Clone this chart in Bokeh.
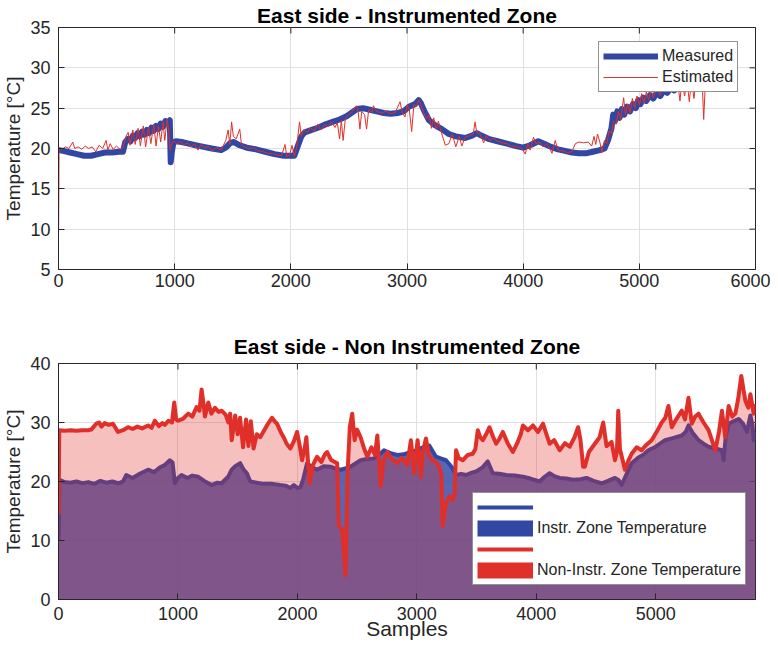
import math
from bokeh.plotting import figure
from bokeh.layouts import column
from bokeh.models import Legend, LegendItem, FixedTicker, Range1d, ColumnDataSource
from bokeh.embed import file_html
from bokeh.resources import INLINE

# ---------------- data: top panel ----------------
meas_x = [1, 40, 100, 160, 220, 280, 340, 400, 460, 520, 555, 575, 600, 620, 640, 660, 680, 700, 720, 740,
          760, 780, 800, 820, 840, 860, 880, 900, 920, 940, 958, 966, 975, 990, 1010, 1060, 1120, 1180, 1250,
          1320, 1400, 1440, 1480, 1510, 1560, 1620, 1700, 1780, 1860, 1940, 2030, 2060, 2090, 2120, 2180,
          2240, 2300, 2360, 2420, 2480, 2530, 2570, 2620, 2680, 2740, 2800, 2860, 2920, 2970, 3020, 3070,
          3100, 3120, 3150, 3190, 3240, 3300, 3360, 3420, 3500, 3560, 3600, 3640, 3700, 3780, 3860, 3940,
          4000, 4060, 4130, 4180, 4240, 4300, 4360, 4420, 4480, 4540, 4600, 4660, 4700, 4730, 4760, 4775,
          4790, 4810, 4830, 4850, 4870, 4895, 4920, 4945, 4970, 4990, 5010, 5035, 5060, 5090, 5120, 5150,
          5180, 5210, 5240, 5270, 5300, 5330, 5360, 5420, 5480, 5540, 5600, 5660, 5720, 5780, 5835]
meas_y = [19.8, 19.7, 19.5, 19.3, 19.1, 19.1, 19.3, 19.5, 19.5, 19.6, 19.6, 20.8, 21.2, 20.9, 21.6, 21.3,
          21.9, 21.5, 22.1, 21.7, 22.3, 21.9, 22.6, 22.2, 22.8, 22.4, 23.1, 22.7, 23.4, 23.1, 23.5, 18.3,
          19.5, 20.8, 20.9, 20.8, 20.6, 20.4, 20.2, 20.0, 19.8, 20.1, 20.7, 20.8, 20.4, 20.1, 19.9, 19.6,
          19.3, 19.1, 19.1, 20.3, 21.5, 22.0, 22.3, 22.6, 23.0, 23.3, 23.6, 24.0, 24.5, 24.9, 25.0, 24.8,
          24.6, 24.4, 24.3, 24.4, 24.6, 25.2, 25.5, 26.0, 25.6, 24.6, 23.5, 22.9, 22.4, 21.8, 21.5, 21.3,
          21.6, 21.9, 21.6, 21.2, 20.9, 20.6, 20.3, 20.1, 20.4, 20.9, 20.6, 20.2, 19.9, 19.7, 19.5, 19.4,
          19.4, 19.6, 19.8, 20.0, 21.0, 22.5, 24.2, 23.4, 24.6, 23.8, 24.9, 24.2, 25.2, 24.6, 25.5, 25.0,
          26.0, 25.5, 26.3, 25.9, 26.6, 26.2, 26.9, 26.5, 27.2, 26.9, 27.5, 27.2, 27.7, 27.5, 27.9, 28.2,
          28.4, 28.5, 28.6, 28.7, 28.8, 28.8, 28.9]

est_x = [1, 5, 30, 60, 90, 123, 140, 170, 200, 230, 260, 290, 320, 350, 380, 410, 425, 445, 470, 500, 530,
         555, 580, 600, 615, 640, 660, 685, 705, 730, 750, 775, 795, 820, 840, 860, 880, 900, 915, 935, 950,
         962, 972, 990, 1020, 1050, 1080, 1110, 1140, 1170, 1200, 1230, 1260, 1290, 1320, 1360, 1400, 1440,
         1460, 1475, 1490, 1505, 1530, 1560, 1575, 1600, 1640, 1680, 1720, 1760, 1800, 1840, 1880, 1920,
         1950, 1965, 1990, 2010, 2030, 2050, 2075, 2090, 2110, 2140, 2170, 2200, 2230, 2260, 2290, 2320,
         2350, 2380, 2400, 2420, 2435, 2450, 2470, 2500, 2530, 2566, 2580, 2595, 2610, 2635, 2652, 2670,
         2700, 2710, 2740, 2780, 2820, 2860, 2900, 2940, 2960, 2983, 3000, 3020, 3040, 3060, 3080, 3100,
         3112, 3140, 3170, 3190, 3210, 3230, 3250, 3270, 3300, 3330, 3360, 3390, 3420, 3450, 3472, 3500,
         3540, 3570, 3586, 3600, 3630, 3660, 3680, 3710, 3740, 3780, 3820, 3860, 3900, 3950, 3990, 4018,
         4040, 4060, 4089, 4110, 4140, 4170, 4200, 4230, 4248, 4276, 4300, 4340, 4380, 4420, 4449, 4480,
         4520, 4560, 4590, 4610, 4625, 4640, 4660, 4678, 4700, 4720, 4740, 4760, 4778, 4800, 4820, 4840,
         4865, 4880, 4900, 4920, 4940, 4960, 4980, 5000, 5020, 5040, 5060, 5080, 5100, 5120, 5150, 5180,
         5210, 5240, 5270, 5300, 5330, 5350, 5365, 5390, 5410, 5430, 5450, 5470, 5490, 5520, 5540, 5554,
         5570, 5600, 5640, 5669, 5690, 5740, 5790, 5813, 5830, 5850]
est_y = [10.0, 20.1, 19.9, 20.2, 20.0, 20.8, 20.0, 20.2, 19.9, 20.3, 20.0, 20.2, 19.6, 20.4, 20.0, 21.0,
         19.8, 20.6, 19.9, 20.3, 19.9, 20.1, 21.5, 22.0, 20.4, 22.3, 20.5, 22.5, 20.3, 22.8, 20.2, 22.6,
         20.6, 23.0, 20.3, 22.8, 20.8, 23.3, 21.0, 23.6, 22.0, 19.8, 20.5, 21.0, 20.6, 20.9, 20.4, 20.7,
         20.2, 20.6, 19.8, 20.5, 20.0, 20.3, 19.7, 20.1, 19.8, 21.0, 22.3, 20.5, 23.3, 21.5, 21.2, 22.4,
         20.5, 20.2, 20.0, 20.1, 19.7, 19.6, 19.4, 19.4, 19.2, 19.1, 20.5, 19.0, 19.2, 20.4, 19.0, 20.2,
         23.3, 21.5, 22.3, 22.0, 22.6, 22.1, 23.0, 22.3, 23.0, 22.7, 23.3, 22.6, 23.2, 21.2, 23.5, 21.0,
         23.8, 24.2, 24.6, 25.3, 24.5, 22.4, 24.6, 24.2, 22.4, 24.8, 24.5, 25.3, 24.6, 24.4, 24.6, 24.3,
         24.5, 25.8, 24.4, 23.9, 25.4, 24.8, 22.1, 25.5, 25.2, 26.0, 25.8, 24.5, 23.7, 24.2, 22.5, 23.8,
         22.4, 23.4, 21.8, 20.4, 20.6, 21.8, 20.2, 21.5, 20.3, 21.4, 21.6, 21.8, 23.3, 22.0, 21.8, 20.7,
         21.6, 21.0, 21.3, 20.9, 20.7, 20.6, 20.3, 20.2, 20.0, 19.3, 20.6, 19.8, 21.4, 20.6, 20.8, 20.2,
         20.6, 20.0, 19.4, 21.0, 19.8, 19.7, 19.5, 19.6, 20.6, 20.8, 20.7, 20.8, 20.3, 21.5, 20.5, 21.8,
         20.8, 19.5, 21.0, 20.6, 22.2, 21.8, 23.4, 23.0, 24.6, 23.6, 26.3, 24.2, 25.5, 24.4, 26.2, 25.0,
         26.5, 25.4, 26.8, 25.6, 27.0, 26.0, 27.4, 26.3, 27.6, 26.6, 27.8, 27.0, 28.0, 27.3, 28.2, 25.9,
         28.3, 26.5, 28.5, 25.8, 28.6, 26.2, 28.6, 27.5, 28.7, 23.6, 28.7, 28.5, 28.8, 27.0, 28.8, 28.9,
         28.7, 27.0, 28.9, 28.9]

# ---------------- data: bottom panel ----------------
instr_x = [1, 8, 50, 100, 150, 200, 250, 300, 350, 400, 450, 500, 540, 568, 620, 680, 750, 800, 850, 890,
           932, 955, 974, 1000, 1030, 1080, 1120, 1170, 1220, 1282, 1330, 1366, 1420, 1450, 1480, 1521, 1550,
           1577, 1605, 1660, 1717, 1790, 1857, 1900, 1941, 1970, 2000, 2025, 2050, 2081, 2120, 2165, 2220,
           2277, 2320, 2361, 2400, 2445, 2490, 2529, 2580, 2641, 2690, 2725, 2780, 2837, 2890, 2949, 3000,
           3050, 3104, 3160, 3200, 3244, 3290, 3328, 3370, 3412, 3460, 3496, 3550, 3594, 3636, 3690, 3748,
           3820, 3888, 3950, 4028, 4070, 4112, 4150, 4196, 4250, 4308, 4370, 4420, 4480, 4546, 4600, 4658,
           4690, 4714, 4750, 4798, 4850, 4900, 4938, 5000, 5078, 5150, 5218, 5250, 5274, 5310, 5358, 5400,
           5442, 5500, 5554, 5568, 5585, 5610, 5650, 5694, 5730, 5764, 5792, 5810, 5820, 5835]
instr_y = [10.0, 20.3, 19.9, 19.8, 20.0, 19.7, 19.9, 19.6, 20.1, 19.8, 20.0, 19.7, 20.0, 21.1, 20.6, 21.3,
           22.0, 21.6, 22.4, 22.8, 23.6, 23.2, 19.7, 20.6, 21.1, 20.6, 21.0, 20.8, 20.1, 19.4, 19.8, 19.7,
           20.8, 22.0, 22.6, 23.1, 22.0, 21.4, 20.0, 19.8, 19.6, 19.6, 19.4, 19.3, 18.9, 19.4, 18.9, 19.0,
           20.5, 23.1, 22.4, 22.0, 22.6, 22.5, 22.2, 22.0, 22.2, 22.5, 23.1, 23.6, 23.8, 23.9, 24.6, 25.3,
           24.8, 24.5, 24.6, 25.0, 25.3, 25.8, 26.1, 24.2, 23.9, 23.6, 22.5, 21.1, 21.3, 21.1, 21.5, 21.7,
           22.4, 23.4, 21.4, 21.3, 21.1, 21.0, 20.8, 20.5, 20.0, 20.8, 21.4, 20.9, 20.6, 20.5, 20.3, 20.4,
           20.6, 20.1, 19.7, 20.1, 20.6, 20.2, 19.4, 21.0, 23.1, 24.0, 24.6, 25.3, 25.9, 27.0, 27.4, 27.8,
           28.4, 29.5, 28.2, 27.0, 26.4, 25.9, 25.6, 25.3, 23.6, 27.5, 29.8, 30.2, 30.6, 29.8, 28.4, 31.2,
           29.5, 27.0, 28.4]

non_x = [1, 6, 50, 100, 150, 200, 250, 274, 316, 340, 360, 386, 420, 456, 498, 540, 582, 620, 660, 700, 750,
         780, 806, 840, 870, 890, 920, 950, 969, 985, 1002, 1040, 1086, 1120, 1156, 1180, 1198, 1215, 1226,
         1254, 1280, 1310, 1340, 1366, 1400, 1422, 1437, 1450, 1479, 1500, 1520, 1545, 1570, 1590, 1610,
         1633, 1660, 1689, 1720, 1745, 1787, 1810, 1829, 1860, 1885, 1910, 1941, 1970, 1997, 2020, 2039,
         2060, 2075, 2090, 2103, 2130, 2165, 2200, 2230, 2249, 2280, 2305, 2333, 2347, 2375, 2390, 2403,
         2417, 2439, 2459, 2479, 2500, 2529, 2560, 2585, 2620, 2650, 2669, 2697, 2720, 2753, 2790, 2837,
         2870, 2893, 2920, 2950, 2978, 3006, 3034, 3050, 3076, 3100, 3132, 3160, 3188, 3205, 3216, 3244,
         3270, 3300, 3315, 3328, 3350, 3384, 3426, 3468, 3490, 3510, 3530, 3552, 3580, 3608, 3640, 3664,
         3690, 3720, 3760, 3804, 3840, 3870, 3888, 3930, 3972, 4014, 4056, 4085, 4112, 4150, 4196, 4240,
         4280, 4320, 4350, 4370, 4392, 4406, 4440, 4490, 4530, 4560, 4588, 4630, 4658, 4675, 4686, 4700,
         4742, 4770, 4798, 4840, 4882, 4920, 4966, 5010, 5050, 5080, 5106, 5134, 5170, 5218, 5245, 5274,
         5302, 5330, 5358, 5400, 5442, 5470, 5498, 5530, 5554, 5582, 5610, 5640, 5666, 5690, 5716, 5735,
         5750, 5775, 5792, 5820, 5835]
non_y = [14.4, 28.7, 28.6, 28.7, 28.6, 28.7, 28.7, 28.8, 29.8, 30.0, 29.3, 29.9, 29.6, 29.8, 28.4, 28.7,
         29.2, 28.9, 29.3, 29.0, 29.5, 29.1, 30.3, 29.4, 29.9, 29.6, 30.3, 30.0, 33.4, 30.5, 30.3, 30.6,
         31.5, 31.0, 32.6, 32.0, 35.6, 33.0, 31.0, 33.4, 31.5, 32.5, 31.8, 32.0, 31.3, 30.0, 31.5, 27.0,
         31.2, 28.0, 30.8, 25.8, 30.5, 26.0, 30.2, 25.6, 28.0, 27.5, 28.6, 29.5, 30.8, 30.2, 29.8, 28.4,
         27.5, 26.4, 25.6, 26.8, 28.4, 26.0, 23.6, 25.5, 27.5, 23.0, 19.7, 22.8, 24.2, 23.3, 24.6, 25.0,
         23.7, 23.4, 23.1, 12.5, 11.9, 8.0, 4.1, 20.3, 29.2, 31.5, 27.0, 28.8, 27.5, 25.5, 24.2, 25.8,
         24.5, 27.8, 19.2, 23.5, 25.0, 23.8, 23.1, 24.0, 23.6, 22.8, 27.0, 21.4, 27.0, 20.8, 25.0, 27.3,
         24.5, 23.6, 23.3, 22.5, 21.0, 12.5, 16.4, 17.5, 16.9, 18.0, 25.3, 24.0, 23.6, 24.5, 24.7, 25.5,
         28.7, 27.5, 27.0, 28.0, 29.2, 27.5, 26.4, 27.2, 28.4, 26.5, 25.0, 26.5, 28.0, 29.5, 28.7, 29.5,
         28.4, 29.8, 28.0, 26.4, 27.0, 25.3, 26.5, 25.9, 27.5, 29.2, 27.0, 22.5, 22.5, 25.0, 26.4, 27.5,
         30.0, 26.0, 26.7, 23.6, 25.0, 32.0, 25.5, 22.0, 23.5, 24.7, 25.8, 25.3, 26.2, 27.0, 28.5, 30.0,
         30.8, 32.8, 29.2, 30.5, 32.0, 30.5, 34.2, 29.8, 31.0, 31.5, 30.0, 28.7, 27.0, 25.3, 28.5, 32.0,
         27.5, 32.8, 31.0, 31.5, 34.0, 37.9, 35.5, 33.7, 32.5, 34.8, 31.5, 33.1]

top_xticks = [0, 1000, 2000, 3000, 4000, 5000, 6000]
top_yticks = [5, 10, 15, 20, 25, 30, 35]
bot_xticks = [0, 1000, 2000, 3000, 4000, 5000]
bot_yticks = [0, 10, 20, 30, 40]

BLUE = "#3246a3"
RED = "#e0302a"
TXT = "#262626"
FONT = "Liberation Sans"
GRID = "#e0e0e0"


def style(p, xt, yt, xr, yr):
    p.title.align = "center"
    p.title.text_font = FONT
    p.title.text_font_size = "21px"
    p.title.text_font_style = "bold"
    p.title.text_color = "#000000"
    p.title.standoff = 2
    p.outline_line_color = TXT
    p.outline_line_alpha = 1.0
    p.xaxis.ticker = FixedTicker(ticks=xt)
    p.yaxis.ticker = FixedTicker(ticks=yt)
    p.xgrid.ticker = FixedTicker(ticks=xt)
    p.ygrid.ticker = FixedTicker(ticks=yt)
    p.grid.grid_line_color = GRID
    p.grid.grid_line_width = 1
    for ax in list(p.xaxis) + list(p.yaxis):
        ax.major_tick_in = 6
        ax.major_tick_out = 0
        ax.minor_tick_in = 0
        ax.minor_tick_out = 0
        ax.axis_line_color = TXT
        ax.major_tick_line_color = TXT
        ax.major_label_text_font = FONT
        ax.major_label_text_font_size = "18px"
        ax.major_label_text_color = TXT
        ax.major_label_text_line_height = 1.0
        ax.axis_label_text_font = FONT
        ax.axis_label_text_font_style = "normal"
        ax.axis_label_text_color = TXT
        ax.axis_label_text_line_height = 1.0
    p.yaxis.major_label_standoff = 8
    p.xaxis.major_label_standoff = 4
    # inward ticks on the right and top edges of the box
    p.ray(x=[xr[1]] * len(yt), y=yt, length=6, length_units="screen", angle=math.pi,
          line_color=TXT, line_width=1)
    p.ray(x=xt, y=[yr[1]] * len(xt), length=6, length_units="screen", angle=-math.pi / 2,
          line_color=TXT, line_width=1)


# ---------------- top figure ----------------
TOP_XR = (0, 6000)
TOP_YR = (5, 35)
p1 = figure(width=770, height=299, output_backend="svg", toolbar_location=None,
            x_range=Range1d(*TOP_XR), y_range=Range1d(*TOP_YR),
            title="East side - Instrumented Zone",
            min_border_left=51, min_border_right=15, min_border_top=21, min_border_bottom=30)
style(p1, top_xticks, top_yticks, TOP_XR, TOP_YR)
p1.yaxis[0].axis_label = "Temperature [°C]"
p1.yaxis[0].axis_label_text_font_size = "19px"
p1.yaxis[0].axis_label_standoff = 3

src_m = ColumnDataSource(dict(x=meas_x, y=meas_y))
src_e = ColumnDataSource(dict(x=est_x, y=est_y))
r_m = p1.line("x", "y", source=src_m, line_color=BLUE, line_width=6, line_join="round")
r_e = p1.line("x", "y", source=src_e, line_color=RED, line_width=1)

leg1 = Legend(items=[LegendItem(label="Measured", renderers=[r_m]),
                     LegendItem(label="Estimated", renderers=[r_e])],
              location=(540, 177))
leg1.label_text_font = FONT
leg1.label_text_font_size = "16px"
leg1.label_text_color = TXT
leg1.glyph_width = 55
leg1.glyph_height = 20
leg1.label_height = 20
leg1.spacing = 1
leg1.padding = 4
leg1.margin = 0
leg1.label_standoff = 4
leg1.border_line_color = TXT
leg1.border_line_width = 1
leg1.background_fill_alpha = 1.0
p1.add_layout(leg1, "center")

# ---------------- bottom figure ----------------
BOT_XR = (0, 5835)
BOT_YR = (0, 40)
p2 = figure(width=770, height=343, output_backend="svg", toolbar_location=None,
            x_range=Range1d(*BOT_XR), y_range=Range1d(*BOT_YR),
            title="East side - Non Instrumented Zone",
            min_border_left=51, min_border_right=15, min_border_top=64, min_border_bottom=40)
p2.yaxis[0].axis_label = "Temperature [°C]"
p2.xaxis[0].axis_label = "Samples"
style(p2, bot_xticks, bot_yticks, BOT_XR, BOT_YR)
p2.title.standoff = 11
p2.yaxis[0].axis_label_text_font_size = "19px"
p2.yaxis[0].axis_label_standoff = 3
p2.xaxis[0].axis_label_text_font_size = "21px"
p2.xaxis[0].major_label_standoff = 7
p2.xaxis[0].axis_label_standoff = -6

src_i = ColumnDataSource(dict(x=instr_x, y=instr_y))
src_n = ColumnDataSource(dict(x=non_x, y=non_y))
r_il = p2.line("x", "y", source=src_i, line_color=BLUE, line_width=4, line_join="round")
p2.varea(x="x", y1=0, y2="y", source=src_i, fill_color=BLUE, fill_alpha=0.82)
r_nl = p2.line("x", "y", source=src_n, line_color=RED, line_width=4, line_join="round")
p2.varea(x="x", y1=0, y2="y", source=src_n, fill_color=RED, fill_alpha=0.3)

# legend swatches (solid patches) -- single-point lines draw nothing in the plot
r_ia = p2.line(x=instr_x[:1], y=instr_y[:1], line_color=BLUE, line_width=16, line_cap="butt")
r_na = p2.line(x=non_x[:1], y=non_y[:1], line_color=RED, line_width=16, line_cap="butt")

leg2 = Legend(items=[LegendItem(label=" ", renderers=[r_il]),
                     LegendItem(label="Instr. Zone Temperature", renderers=[r_ia]),
                     LegendItem(label=" ", renderers=[r_nl]),
                     LegendItem(label="Non-Instr. Zone Temperature", renderers=[r_na])],
              location=(414, 14))
leg2.label_text_font = FONT
leg2.label_text_font_size = "16px"
leg2.label_text_color = TXT
leg2.glyph_width = 56
leg2.glyph_height = 20
leg2.label_height = 20
leg2.spacing = 1
leg2.padding = 4
leg2.margin = 0
leg2.label_standoff = 4
leg2.border_line_color = TXT
leg2.border_line_width = 1
leg2.background_fill_alpha = 1.0
p2.add_layout(leg2, "center")

layout = column(p1, p2)
open("out.html", "w").write(file_html(layout, INLINE))
